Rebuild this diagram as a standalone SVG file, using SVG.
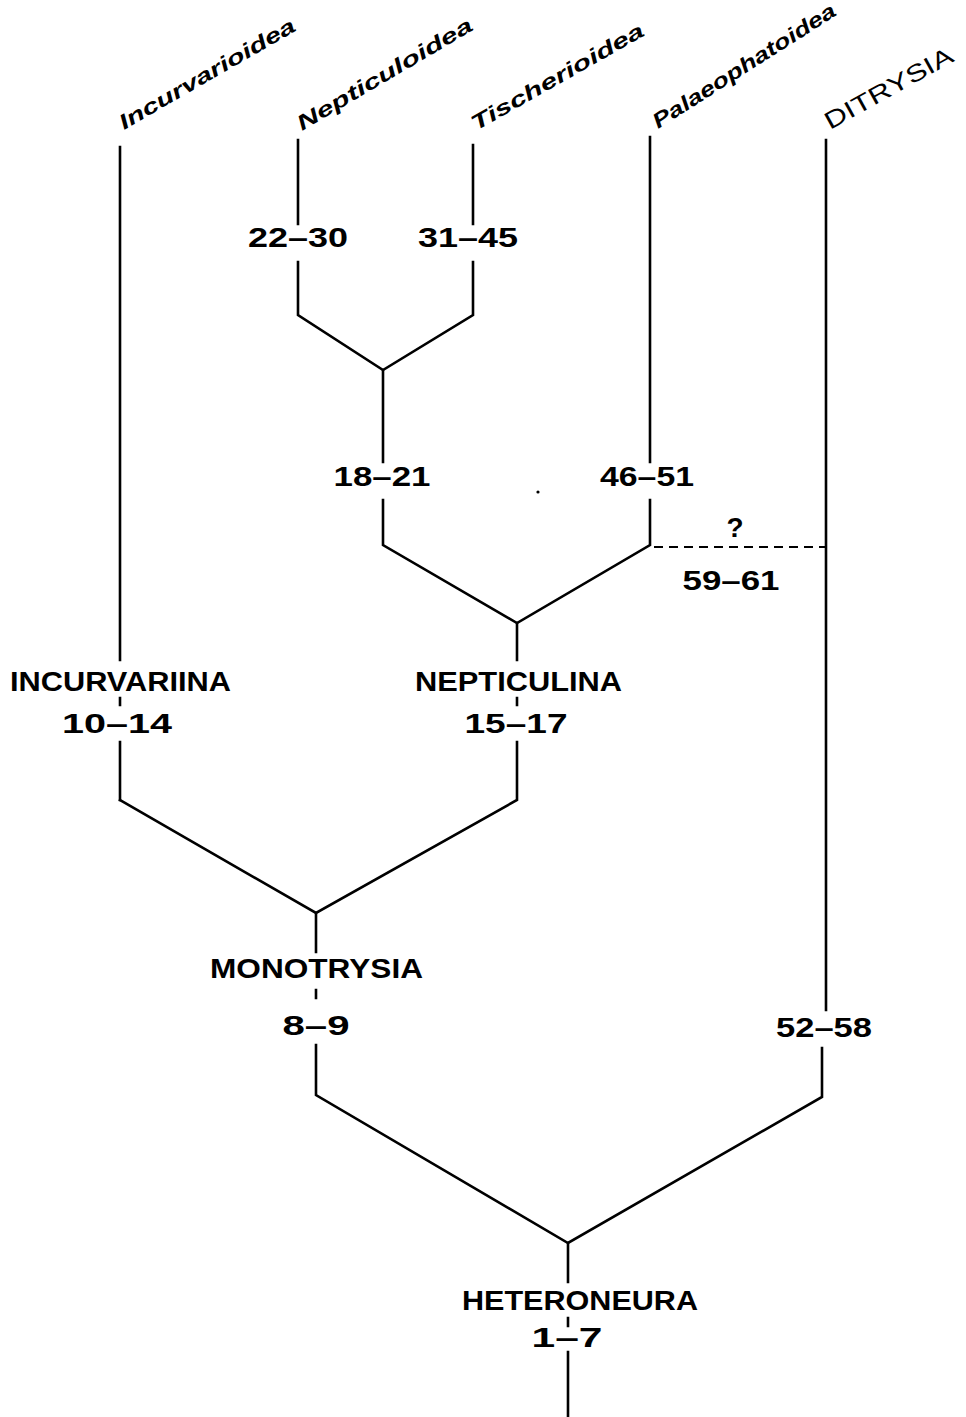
<svg xmlns="http://www.w3.org/2000/svg" width="966" height="1417" viewBox="0 0 966 1417">
<style>
.ln{stroke:#000;stroke-width:2.6;fill:none;stroke-linecap:square}
.ds{stroke:#000;stroke-width:2.2;fill:none;stroke-dasharray:9,6}
.t{font-family:"Liberation Sans",Arial,sans-serif;font-size:27px;font-weight:bold;fill:#000}
.n{font-family:"Liberation Sans",Arial,sans-serif;font-size:28px;font-weight:bold;fill:#000;text-anchor:middle}
.tx{font-family:"Liberation Sans",Arial,sans-serif;font-size:21px;font-weight:bold;font-style:italic;fill:#000}
.dt{font-family:"Liberation Sans",Arial,sans-serif;font-size:24px;fill:#000}
</style>
<rect width="966" height="1417" fill="#fff"/>
<g id="connectors">
<!-- Incurvarioidea -->
<path class="ln" d="M120 147V660M120 698V705M120 742V800"/>
<!-- Nepticuloidea / Tischerioidea -->
<path class="ln" d="M298 140V224M298 262V315L383 370L473 315V262M473 224V145"/>
<path class="ln" d="M383 370V462M383 500V545L517 623L650 545V500M650 462V137"/>
<path class="ln" d="M517 623V660M517 698V705M517 742V800L316 913L120 800"/>
<path class="ln" d="M316 913V952M316 990V998M316 1045V1095L568 1243L822 1097V1048M826 1010V140"/>
<path class="ln" d="M568 1243V1282M568 1318V1326M568 1352V1417"/>
<path class="ds" d="M654 547H826"/>
<circle cx="538" cy="492" r="1.6" fill="#000"/>
</g>
<g id="top-labels">
<text class="tx" transform="translate(124,130) rotate(-30)" textLength="200" lengthAdjust="spacingAndGlyphs">Incurvarioidea</text>
<text class="tx" transform="translate(302,131) rotate(-30.5)" textLength="200" lengthAdjust="spacingAndGlyphs">Nepticuloidea</text>
<text class="tx" transform="translate(476,131) rotate(-29.5)" textLength="195" lengthAdjust="spacingAndGlyphs">Tischerioidea</text>
<text class="tx" transform="translate(658,129) rotate(-32.5)" textLength="213" lengthAdjust="spacingAndGlyphs">Palaeophatoidea</text>
<text class="dt" transform="translate(830,130) rotate(-29)" textLength="143" lengthAdjust="spacingAndGlyphs">DITRYSIA</text>
</g>
<g id="node-22-30"><text class="n" x="298" y="247" textLength="100" lengthAdjust="spacingAndGlyphs">22–30</text></g>
<g id="node-31-45"><text class="n" x="468" y="247" textLength="100" lengthAdjust="spacingAndGlyphs">31–45</text></g>
<g id="node-18-21"><text class="n" x="382" y="486" textLength="97" lengthAdjust="spacingAndGlyphs">18–21</text></g>
<g id="node-46-51"><text class="n" x="647" y="486" textLength="94" lengthAdjust="spacingAndGlyphs">46–51</text></g>
<g id="node-59-61"><text class="n" x="735" y="537">?</text><text class="n" x="731" y="590" textLength="97" lengthAdjust="spacingAndGlyphs">59–61</text></g>
<g id="node-incurvariina"><text class="t" x="10" y="691" textLength="221" lengthAdjust="spacingAndGlyphs">INCURVARIINA</text><text class="n" x="117" y="733" textLength="110" lengthAdjust="spacingAndGlyphs">10–14</text></g>
<g id="node-nepticulina"><text class="t" x="415" y="691" textLength="207" lengthAdjust="spacingAndGlyphs">NEPTICULINA</text><text class="n" x="516" y="733" textLength="103" lengthAdjust="spacingAndGlyphs">15–17</text></g>
<g id="node-monotrysia"><text class="t" x="210" y="978" textLength="213" lengthAdjust="spacingAndGlyphs">MONOTRYSIA</text><text class="n" x="316" y="1035" textLength="67" lengthAdjust="spacingAndGlyphs">8–9</text></g>
<g id="node-52-58"><text class="n" x="824" y="1037" textLength="96" lengthAdjust="spacingAndGlyphs">52–58</text></g>
<g id="node-heteroneura"><text class="t" x="462" y="1310" textLength="236" lengthAdjust="spacingAndGlyphs">HETERONEURA</text><text class="n" x="567" y="1347" textLength="71" lengthAdjust="spacingAndGlyphs">1–7</text></g>
</svg>
